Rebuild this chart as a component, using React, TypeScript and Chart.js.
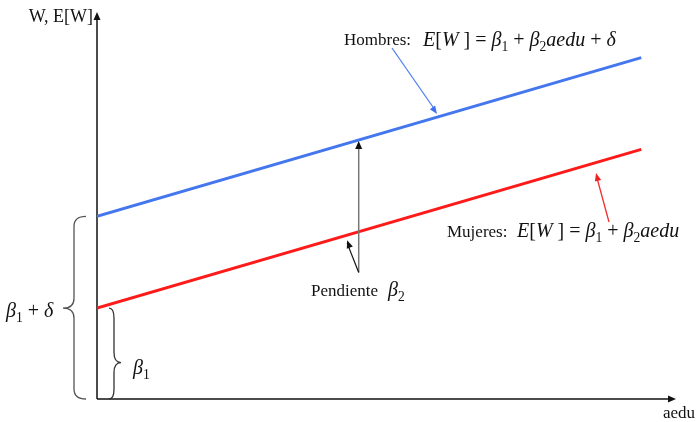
import React, { useEffect, useRef } from "react";
import { Chart, registerables } from "chart.js";

Chart.register(...registerables);

// Data (aedu on x, W on y)
const aedu = [0, 9.4];
const hombres = [4.72, 8.82]; // beta1 + delta + beta2*aedu
const mujeres = [2.35, 6.45]; // beta1 + beta2*aedu
const pendienteX = 4.52; // where the slope arrow is drawn
const pendienteBottom = 3.27;

const SERIF = '"Liberation Serif", "Times New Roman", serif';

type Seg = { t: string; i?: boolean; sub?: boolean; gap?: number };

function drawEq(ctx: CanvasRenderingContext2D, segs: Seg[], x: number, y: number, size: number) {
  let cx = x;
  for (const s of segs) {
    const fs = s.sub ? size * 0.68 : size;
    ctx.font = `${s.i ? "italic " : ""}${fs}px ${SERIF}`;
    ctx.textAlign = "left";
    ctx.textBaseline = "alphabetic";
    cx += s.gap || 0;
    ctx.fillText(s.t, cx, y + (s.sub ? size * 0.26 : 0));
    cx += ctx.measureText(s.t).width;
  }
  return cx;
}

function arrowHead(ctx: CanvasRenderingContext2D, x1: number, y1: number, x2: number, y2: number, len: number, wid: number, color: string) {
  const a = Math.atan2(y2 - y1, x2 - x1);
  ctx.save();
  ctx.fillStyle = color;
  ctx.beginPath();
  ctx.moveTo(x2, y2);
  ctx.lineTo(x2 - len * Math.cos(a) + wid * Math.sin(a), y2 - len * Math.sin(a) - wid * Math.cos(a));
  ctx.lineTo(x2 - len * Math.cos(a) - wid * Math.sin(a), y2 - len * Math.sin(a) + wid * Math.cos(a));
  ctx.closePath();
  ctx.fill();
  ctx.restore();
}

function line(ctx: CanvasRenderingContext2D, x1: number, y1: number, x2: number, y2: number, color: string, w: number) {
  ctx.save();
  ctx.strokeStyle = color;
  ctx.lineWidth = w;
  ctx.beginPath();
  ctx.moveTo(x1, y1);
  ctx.lineTo(x2, y2);
  ctx.stroke();
  ctx.restore();
}

// vertical curly brace
function brace(ctx: CanvasRenderingContext2D, xEnd: number, xBody: number, xTip: number, yTop: number, yBot: number, yTip: number, color: string) {
  ctx.save();
  ctx.strokeStyle = color;
  ctx.lineWidth = 1.3;
  ctx.beginPath();
  const r1 = Math.min(10, (yTip - yTop) / 3);
  const r2 = Math.min(10, (yBot - yTip) / 3);
  ctx.moveTo(xEnd, yTop);
  ctx.quadraticCurveTo(xBody, yTop, xBody, yTop + r1);
  ctx.lineTo(xBody, yTip - r1);
  ctx.quadraticCurveTo(xBody, yTip, xTip, yTip);
  ctx.quadraticCurveTo(xBody, yTip, xBody, yTip + r2);
  ctx.lineTo(xBody, yBot - r2);
  ctx.quadraticCurveTo(xBody, yBot, xEnd, yBot);
  ctx.stroke();
  ctx.restore();
}

const EQ = 20;
const LBL = 17;

const diagramPlugin = {
  id: "diagram",
  beforeDatasetsDraw(chart: any) {
    const ctx: CanvasRenderingContext2D = chart.ctx;
    const { left, right, top, bottom } = chart.chartArea;
    ctx.save();
    line(ctx, left, bottom, left, top + 4, "#111", 1.5);
    arrowHead(ctx, left, bottom, left, top, 8, 3.5, "#111");
    line(ctx, left, bottom, right - 4, bottom, "#111", 1.5);
    arrowHead(ctx, left, bottom, right, bottom, 8, 3.5, "#111");
    ctx.restore();
  },
  afterDatasetsDraw(chart: any) {
    const ctx: CanvasRenderingContext2D = chart.ctx;
    const xs = chart.scales.x;
    const ys = chart.scales.y;
    const { left, bottom } = chart.chartArea;
    ctx.save();
    ctx.fillStyle = "#111";
    ctx.textBaseline = "alphabetic";

    // axis titles
    ctx.font = `18px ${SERIF}`;
    ctx.textAlign = "right";
    ctx.fillText("W, E[W]", left - 4, 22);
    ctx.textAlign = "left";
    ctx.font = `${LBL}px ${SERIF}`;
    ctx.fillText("aedu", 663, 418);

    // slope arrow
    const px = xs.getPixelForValue(pendienteX);
    const slope = (hombres[1] - hombres[0]) / (aedu[1] - aedu[0]);
    const slopeM = (mujeres[1] - mujeres[0]) / (aedu[1] - aedu[0]);
    const yTopArrow = ys.getPixelForValue(hombres[0] + slope * pendienteX);
    const yBotArrow = ys.getPixelForValue(pendienteBottom);
    line(ctx, px, yBotArrow, px, yTopArrow + 6, "#777", 1.5);
    arrowHead(ctx, px, yBotArrow, px, yTopArrow + 1, 8, 3.5, "#111");
    const rx = xs.getPixelForValue(pendienteX - 0.2);
    const ry = ys.getPixelForValue(mujeres[0] + slopeM * (pendienteX - 0.2)) + 5;
    line(ctx, px, yBotArrow, rx, ry + 3, "#111", 1.2);
    arrowHead(ctx, px, yBotArrow, rx, ry, 8, 3.2, "#111");

    ctx.fillStyle = "#111";
    ctx.font = `${LBL}px ${SERIF}`;
    ctx.fillText("Pendiente", 311, 296);
    drawEq(ctx, [{ t: "β", i: true }, { t: "2", sub: true }], 388, 296, EQ);

    // Hombres label
    ctx.font = `${LBL}px ${SERIF}`;
    ctx.fillText("Hombres:", 344, 45);
    drawEq(
      ctx,
      [
        { t: "E", i: true },
        { t: "[" },
        { t: "W", i: true },
        { t: " ]" },
        { t: " = " },
        { t: "β", i: true },
        { t: "1", sub: true },
        { t: " + " },
        { t: "β", i: true },
        { t: "2", sub: true },
        { t: "aedu", i: true },
        { t: " + " },
        { t: "δ", i: true },
      ],
      423,
      46,
      EQ
    );
    line(ctx, 392, 48, 435, 110, "#5080F0", 1.3);
    arrowHead(ctx, 392, 48, 437, 114, 8, 3.2, "#4070F0");

    // Mujeres label
    ctx.fillStyle = "#111";
    ctx.font = `${LBL}px ${SERIF}`;
    ctx.fillText("Mujeres:", 447, 237);
    drawEq(
      ctx,
      [
        { t: "E", i: true },
        { t: "[" },
        { t: "W", i: true },
        { t: " ]" },
        { t: " = " },
        { t: "β", i: true },
        { t: "1", sub: true },
        { t: " + " },
        { t: "β", i: true },
        { t: "2", sub: true },
        { t: "aedu", i: true },
      ],
      517,
      237,
      EQ
    );
    line(ctx, 609, 222, 597, 178, "#F03030", 1.3);
    arrowHead(ctx, 609, 222, 596, 173, 8, 3.2, "#F02020");

    // braces
    const yBlue0 = ys.getPixelForValue(hombres[0]);
    const yRed0 = ys.getPixelForValue(mujeres[0]);
    brace(ctx, 86, 74, 63, yBlue0, bottom, (yBlue0 + bottom) / 2 + 0.5, "#555");
    brace(ctx, 109, 114, 121, yRed0, bottom, yRed0 + (bottom - yRed0) * 0.6, "#333");

    ctx.fillStyle = "#111";
    drawEq(ctx, [{ t: "β", i: true }, { t: "1", sub: true }, { t: " + " }, { t: "δ", i: true }], 6, 317, EQ);
    drawEq(ctx, [{ t: "β", i: true }, { t: "1", sub: true }], 133, 374, EQ);

    ctx.restore();
  },
};

export default function App() {
  const ref = useRef<HTMLCanvasElement | null>(null);
  useEffect(() => {
    if (!ref.current) return;
    const chart = new Chart(ref.current, {
      type: "scatter",
      data: {
        datasets: [
          {
            label: "Hombres",
            data: aedu.map((x, i) => ({ x, y: hombres[i] })),
            showLine: true,
            borderColor: "#4477EE",
            borderWidth: 3,
            pointRadius: 0,
          },
          {
            label: "Mujeres",
            data: aedu.map((x, i) => ({ x, y: mujeres[i] })),
            showLine: true,
            borderColor: "#FF1A1A",
            borderWidth: 3,
            pointRadius: 0,
          },
        ],
      },
      options: {
        animation: false,
        responsive: true,
        maintainAspectRatio: false,
        layout: { padding: { left: 97, top: 12, right: 21, bottom: 23 } },
        scales: {
          x: { type: "linear", min: 0, max: 10, display: false },
          y: { type: "linear", min: 0, max: 10, display: false },
        },
        plugins: { legend: { display: false }, tooltip: { enabled: false } },
      },
      plugins: [diagramPlugin],
    });
    return () => chart.destroy();
  }, []);
  return (
    <div style={{ position: "fixed", left: 0, top: 0, width: 697, height: 422, background: "#fff" }}>
      <canvas ref={ref} />
    </div>
  );
}
